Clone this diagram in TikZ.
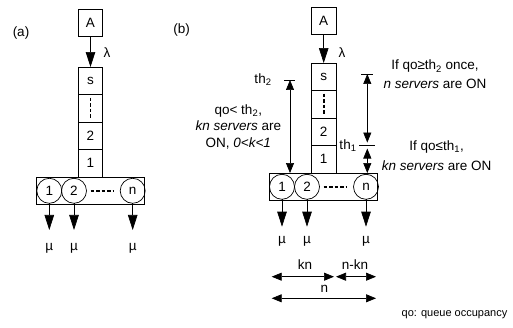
\documentclass[tikz,border=0pt]{standalone}
\usepackage{fontspec}
\setmainfont{Liberation Sans}
\usetikzlibrary{arrows.meta,positioning}

\begin{document}
\begin{tikzpicture}[
    x=1pt, y=-1pt,
    every node/.style={font=\fontsize{13.5}{16.7}\selectfont, inner sep=0pt, outer sep=0pt},
    cell/.style={draw, line width=0.7pt, minimum width=24.5pt, minimum height=27.5pt},
    row/.style={draw, line width=0.7pt, minimum width=108pt, minimum height=27.5pt},
    srv/.style={draw, line width=0.7pt, circle, minimum size=25pt},
    flow/.style={line width=0.7pt, -{Triangle[length=15pt,width=9.5pt]}},
    dim/.style={line width=0.7pt, {Triangle[length=10pt,width=8pt]}-{Triangle[length=10pt,width=8pt]}},
    gap/.style={line width=1.9pt, dash pattern=on 3.5pt off 2pt},
    note/.style={align=center},
  ]
    \useasboundingbox (0,0) rectangle (513,328);

    % ---- (a): all n servers ----
    \node (laba) at (21,33) {(a)};
    \node[cell] (srca) at (90.5,22.8) {A};
    \node[cell] (qas) at (90.5,80.8) {s};
    \node[cell, below=0pt of qas] (qad) {};
    \node[cell, below=0pt of qad] (qa2) {2};
    \node[cell, below=0pt of qa2] (qa1) {1};
    \node[row, below=0pt of qa1] (rowa) {};
    \node[srv] (sa1) at (49.3,190.8) {1};
    \node[srv] (sa2) at (74,190.8) {2};
    \node[srv] (san) at (132.7,190.8) {n};
    \draw[gap, shorten <=4pt, shorten >=7pt] (sa2) -- (san);
    \draw[gap, shorten <=3pt, shorten >=3pt] (qad.north) -- (qad.south);
    \draw[flow] (srca) -- (qas);
    \node (lama) at (107,53) {λ};

    % service out
    \coordinate (tipa) at (0,230);
    \foreach \s in {sa1,sa2,san} {
      \draw[flow] (\s.south) -- (\s.south |- tipa);
      \node (mu-\s) at ([yshift=-18pt]\s.south |- tipa) {µ};
    }

    % ---- (b): kn / n servers with thresholds ----
    \node (labb) at (181.7,30) {(b)};
    \node[cell] (srcb) at (323.7,20.8) {A};
    \node[cell] (qbs) at (323.7,76.8) {s};
    \node[cell, below=0pt of qbs] (qbd) {};
    \node[cell, below=0pt of qbd] (qb2) {2};
    \node[cell, below=0pt of qb2] (qb1) {1};
    \node[row, below=0pt of qb1] (rowb) {};
    \node[srv] (sb1) at (282,186.8) {1};
    \node[srv] (sb2) at (307,186.8) {2};
    \node[srv] (sbn) at (366,186.8) {n};
    \draw[gap, shorten <=4pt, shorten >=7pt] (sb2) -- (sbn);
    \draw[gap, shorten <=3pt, shorten >=3pt] (qbd.north) -- (qbd.south);
    \draw[flow] (srcb) -- (qbs);
    \node (lamb) at (342,53) {λ};

    \coordinate (tipb) at (0,226.7);
    \foreach \s in {sb1,sb2,sbn} {
      \draw[flow] (\s.south) -- (\s.south |- tipb);
      \node (mu-\s) at ([yshift=-15pt]\s.south |- tipb) {µ};
    }

    % thresholds
    \coordinate (th2L) at (290,80);
    \draw[line width=0.7pt] ([xshift=-6pt]th2L) -- ([xshift=5pt]th2L);
    \draw[dim] (th2L) -- (th2L |- rowb.north);
    \node (th2) at (263,80) {th\textsubscript{2}};

    \coordinate (th2R) at (367.3,74);
    \coordinate (th1R) at (th2R |- qb1.north);
    \draw[line width=0.7pt] ([xshift=-6pt]th2R) -- ([xshift=6pt]th2R);
    \draw[line width=0.7pt] ([xshift=-8pt]th1R) -- ([xshift=8pt]th1R);
    \draw[dim, shorten >=3pt] (th2R) -- (th1R);
    \draw[dim, shorten <=3pt] (th1R) -- (th1R |- rowb.north);
    \node (th1) at (348,146) {th\textsubscript{1}};

    % notes
    \node[note] (lownote) at (238.3,126.7)
      {qo< th\textsubscript{2},\\ \textit{kn servers} are\\ ON, \textit{0<k<1}};
    \node[note, font=\fontsize{13.5}{18.3}\selectfont] (upnote) at (435,74.2)
      {If qo≥th\textsubscript{2} once,\\ \textit{n servers} are ON};
    \node[note, font=\fontsize{13.5}{20}\selectfont] (thnote) at (436.7,155.7)
      {If qo≤th\textsubscript{1},\\ \textit{kn servers} are ON};

    % server split
    \coordinate (kn0) at (271.7,276.7);
    \coordinate (kn1) at (334,276.7);
    \coordinate (nk0) at (336,276.7);
    \coordinate (nk1) at (376,276.7);
    \coordinate (n0) at (271.7,298.3);
    \coordinate (n1) at (376,298.3);
    \draw[dim] (kn0) -- (kn1);
    \draw[dim] (nk0) -- (nk1);
    \draw[dim] (n0) -- (n1);
    \node (kn) at (305,265) {kn};
    \node (nkn) at (355,265) {n-kn};
    \node (nall) at (324.3,289) {n};

    \node[font=\fontsize{11}{13}\selectfont] (legend) at (454.5,315) {qo: queue occupancy};

  \end{tikzpicture}
\end{document}
